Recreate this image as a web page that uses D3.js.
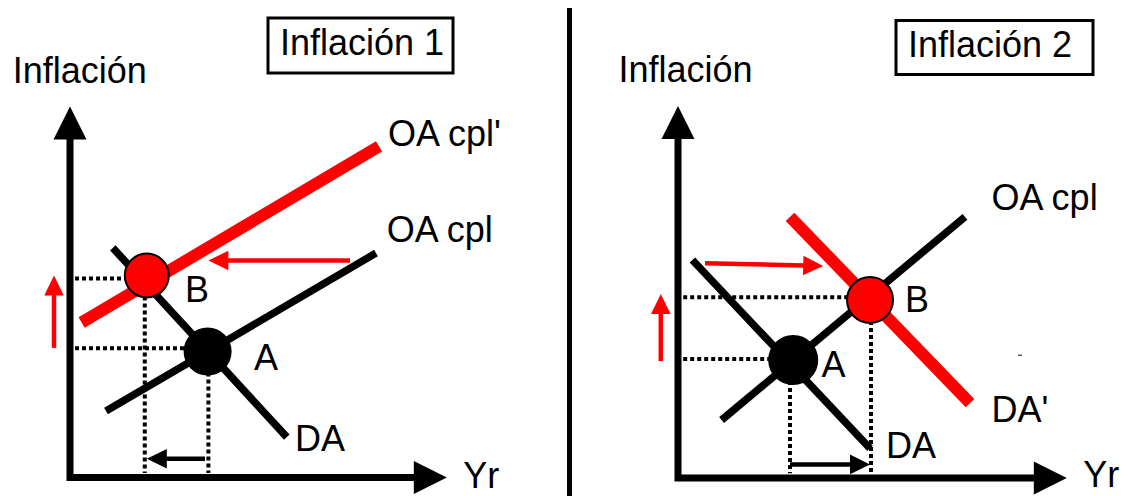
<!DOCTYPE html>
<html>
<head>
<meta charset="utf-8">
<script src="https://cdn.jsdelivr.net/npm/d3@7"></script>
<style>
  html, body { margin: 0; padding: 0; background: #fff; }
  svg { display: block; }
  text { font-family: "Liberation Sans", Arial, sans-serif; fill: #000; }
</style>
</head>
<body>
<svg id="chart" width="1133" height="496"></svg>
<script>
// ---------------- DATA (in model units, 0..100 on each axis) ----------------
const panelTitles = ["Inflación 1", "Inflación 2"];
const yAxisLabel = "Inflación";
const xAxisLabel = "Yr";

// axis arrow tips [x-tip, y-tip]
const panel1AxisTip = [94.2, 92.75];
const panel2AxisTip = [97.2, 93.0];

// Panel 1 curves
const panel1Curves = ["OA cpl", "OA cpl'", "DA"];
const panel1CurveX = [[9.0, 76.5], [2.9, 77.25], [10.7, 54.2]];
const panel1CurveY = [[16.6, 56.1], [38.75, 82.8], [57.4, 10.1]];
const panel1CurveShifted = [false, true, false];

// Panel 2 curves
const panel2Curves = ["OA cpl", "DA", "DA'"];
const panel2CurveX = [[10.9, 71.75], [3.6, 48.0], [28.0, 73.0]];
const panel2CurveY = [[14.5, 65.3], [54.5, 7.4], [65.3, 18.7]];
const panel2CurveShifted = [false, false, true];

// Equilibria
const equilibriumNames = ["A", "B"];
const panel1PointX = [34.4, 19.2];
const panel1PointY = [31.5, 50.5];
const panel1GuideX = [34.6, 18.7];
const panel1GuideY = [32.3, 49.75];
const panel2PointX = [28.8, 48.0];
const panel2PointY = [29.5, 44.5];
const panel2GuideX = [28.0, 48.25];
const panel2GuideY = [29.75, 45.2];
const panel1GuideStart = [1.25, 1.1];   // [x start of horizontals, y end of verticals]
const panel2GuideStart = [1.3, 1.2];

// Shift arrows: [x1, y1, x2, y2]
const arrowKinds = ["output", "inflation", "curve"];
const panel1Arrows = [[33.75, 4.7, 19.2, 4.7], [-4.0, 32.4, -4.0, 50.5], [70.0, 54.25, 34.6, 54.25]];
const panel2Arrows = [[28.0, 3.4, 48.0, 3.4], [-4.3, 29.25, -4.3, 46.0], [6.75, 53.7, 36.3, 53.0]];

// Label anchors (model units)
const panel1LabelText = ["OA cpl'", "OA cpl", "DA", "A", "B"];
const panel1LabelX = [79.5, 79.2, 56.25, 46.0, 28.75];
const panel1LabelY = [83.0, 58.8, 6.75, 27.0, 43.8];
const panel2LabelText = ["OA cpl", "DA'", "DA", "A", "B"];
const panel2LabelX = [78.4, 78.4, 52.0, 35.9, 56.75];
const panel2LabelY = [67.0, 14.1, 4.9, 25.3, 41.6];
const axisLabelPos1 = [[-14.3, 98.75], [98.3, -2.5]];
const axisLabelPos2 = [[-14.9, 99.1], [101.3, -2.2]];
const strayMark2 = [85.5, 30.7];

// ---------------- STYLE / LAYOUT ----------------
const RED = "#ff0000";
const FONT = 36;
const layouts = [
  { ox: 70, oy: 477.5, box: [268, 18, 185, 55], titleX: 280, titleY: 55, radius: [23, 22] },
  { ox: 678, oy: 478, box: [896, 20.5, 197, 54], titleX: 908, titleY: 56.7, radius: [24, 23] }
];

const panelsData = [
  { tip: panel1AxisTip, names: panel1Curves, cx: panel1CurveX, cy: panel1CurveY, shifted: panel1CurveShifted,
    px: panel1PointX, py: panel1PointY, gx: panel1GuideX, gy: panel1GuideY, gs: panel1GuideStart,
    arrows: panel1Arrows, lt: panel1LabelText, lx: panel1LabelX, ly: panel1LabelY, al: axisLabelPos1 },
  { tip: panel2AxisTip, names: panel2Curves, cx: panel2CurveX, cy: panel2CurveY, shifted: panel2CurveShifted,
    px: panel2PointX, py: panel2PointY, gx: panel2GuideX, gy: panel2GuideY, gs: panel2GuideStart,
    arrows: panel2Arrows, lt: panel2LabelText, lx: panel2LabelX, ly: panel2LabelY, al: axisLabelPos2 }
];

const svg = d3.select("#chart");

// divider
svg.append("line").attr("x1", 569.5).attr("x2", 569.5).attr("y1", 8).attr("y2", 496)
  .attr("stroke", "#000").attr("stroke-width", 5);

function arrow(g, x1, y1, x2, y2, color, sw, L, W) {
  const dx = x2 - x1, dy = y2 - y1, len = Math.hypot(dx, dy);
  const ux = dx / len, uy = dy / len;
  const bx = x2 - ux * L, by = y2 - uy * L;
  g.append("line").attr("x1", x1).attr("y1", y1).attr("x2", bx + ux * 1).attr("y2", by + uy * 1)
    .attr("stroke", color).attr("stroke-width", sw);
  g.append("polygon")
    .attr("points", [[x2, y2], [bx - uy * W, by + ux * W], [bx + uy * W, by - ux * W]].map(p => p.join(",")).join(" "))
    .attr("fill", color);
}

panelsData.forEach((p, i) => {
  const lay = layouts[i];
  const x = d3.scaleLinear().domain([0, 100]).range([lay.ox, lay.ox + 400]);
  const y = d3.scaleLinear().domain([0, 100]).range([lay.oy, lay.oy - 400]);
  const g = svg.append("g");

  // title box
  g.append("rect").attr("x", lay.box[0]).attr("y", lay.box[1]).attr("width", lay.box[2]).attr("height", lay.box[3])
    .attr("fill", "none").attr("stroke", "#000").attr("stroke-width", 3);
  g.append("text").attr("x", lay.titleX).attr("y", lay.titleY).attr("font-size", FONT).text(panelTitles[i]);

  // axes
  const AL = 33, AW = 16.5;
  g.append("path")
    .attr("d", `M${x(0)},${y(p.tip[1]) + AL - 1} V${y(0)} H${x(p.tip[0]) - AL + 1}`)
    .attr("fill", "none").attr("stroke", "#000").attr("stroke-width", 7).attr("stroke-linejoin", "miter");
  g.append("polygon").attr("fill", "#000")
    .attr("points", `${x(0)},${y(p.tip[1])} ${x(0) - AW},${y(p.tip[1]) + AL} ${x(0) + AW},${y(p.tip[1]) + AL}`);
  g.append("polygon").attr("fill", "#000")
    .attr("points", `${x(p.tip[0])},${y(0)} ${x(p.tip[0]) - AL},${y(0) - AW} ${x(p.tip[0]) - AL},${y(0) + AW}`);

  // dotted guides
  p.gx.forEach((gxv, k) => {
    g.append("line").attr("x1", x(p.gs[0])).attr("x2", x(p.px[k])).attr("y1", y(p.gy[k])).attr("y2", y(p.gy[k]))
      .attr("stroke", "#000").attr("stroke-width", 4).attr("stroke-dasharray", "4,3");
    g.append("line").attr("x1", x(gxv)).attr("x2", x(gxv)).attr("y1", y(p.py[k])).attr("y2", y(p.gs[1]))
      .attr("stroke", "#000").attr("stroke-width", 4).attr("stroke-dasharray", "4,3");
  });

  // curves: black first, then red shifted
  const line = d3.line().x(d => x(d[0])).y(d => y(d[1]));
  const order = p.names.map((n, k) => k).sort((a, b) => (p.shifted[a] ? 1 : 0) - (p.shifted[b] ? 1 : 0));
  order.forEach(k => {
    g.append("path").datum(p.cx[k].map((xv, j) => [xv, p.cy[k][j]])).attr("d", line)
      .attr("fill", "none").attr("stroke", p.shifted[k] ? RED : "#000")
      .attr("stroke-width", p.shifted[k] ? 12 : 7.5).attr("stroke-linecap", "butt");
  });

  // arrows
  p.arrows.forEach((a, k) => {
    const color = arrowKinds[k] === "output" ? "#000" : RED;
    arrow(g, x(a[0]), y(a[1]), x(a[2]), y(a[3]), color, 4.5, 20, 9.8);
  });

  // equilibrium points
  equilibriumNames.forEach((n, k) => {
    g.append("circle").attr("cx", x(p.px[k])).attr("cy", y(p.py[k])).attr("r", lay.radius[k])
      .attr("fill", n === "A" ? "#000" : RED).attr("stroke", "#000").attr("stroke-width", 2);
  });

  // labels
  p.lt.forEach((t, k) => {
    g.append("text").attr("x", x(p.lx[k])).attr("y", y(p.ly[k])).attr("font-size", FONT).text(t);
  });
  g.append("text").attr("x", x(p.al[0][0])).attr("y", y(p.al[0][1])).attr("font-size", FONT).text(yAxisLabel);
  g.append("text").attr("x", x(p.al[1][0])).attr("y", y(p.al[1][1])).attr("font-size", FONT).text(xAxisLabel);

  if (i === 1) {
    g.append("line").attr("x1", x(strayMark2[0]) - 2).attr("x2", x(strayMark2[0]) + 2)
      .attr("y1", y(strayMark2[1])).attr("y2", y(strayMark2[1])).attr("stroke", "#000").attr("stroke-width", 1);
  }
});
</script>
</body>
</html>
